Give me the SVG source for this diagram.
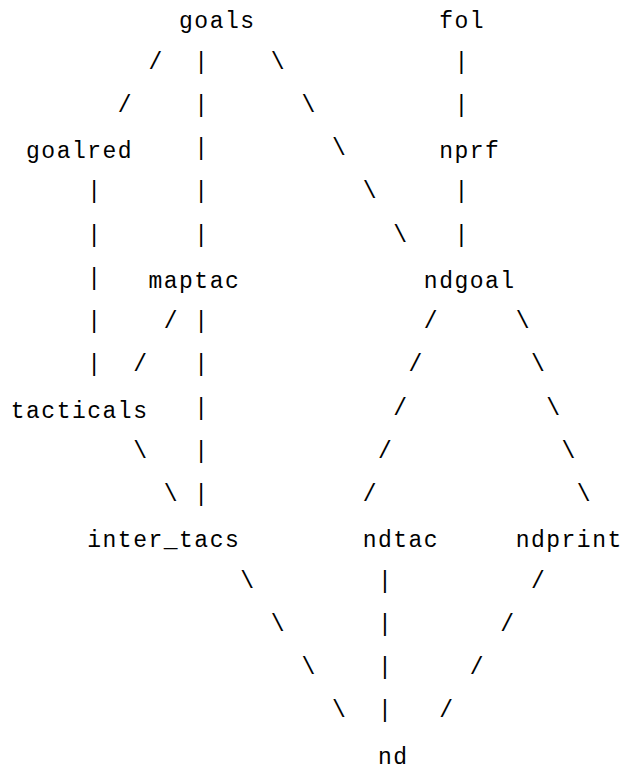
<svg xmlns="http://www.w3.org/2000/svg" width="623" height="770" viewBox="0 0 623 770">
  <style>
    text { font-family: "Liberation Mono", "DejaVu Sans Mono", monospace; fill: #000; }
    .lbl { font-size: 23px; letter-spacing: 1.5px; }
    .edge { font-size: 23px; text-anchor: middle; }
  </style>
  <rect width="623" height="770" fill="#fff"/>

  <!-- module nodes -->
  <g id="goals"><text class="lbl" x="179.05" y="28.3">goals</text></g>
  <g id="fol"><text class="lbl" x="439.15" y="28.3">fol</text></g>
  <g id="goalred"><text class="lbl" x="26.05" y="158.05">goalred</text></g>
  <g id="nprf"><text class="lbl" x="439.15" y="158.05">nprf</text></g>
  <g id="maptac"><text class="lbl" x="148.45" y="287.8">maptac</text></g>
  <g id="ndgoal"><text class="lbl" x="423.85" y="287.8">ndgoal</text></g>
  <g id="tacticals"><text class="lbl" x="10.75" y="417.55">tacticals</text></g>
  <g id="inter_tacs"><text class="lbl" x="87.25" y="547.3">inter_tacs</text></g>
  <g id="ndtac"><text class="lbl" x="362.65" y="547.3">ndtac</text></g>
  <g id="ndprint"><text class="lbl" x="515.65" y="547.3">ndprint</text></g>
  <g id="nd"><text class="lbl" x="377.95" y="763.55">nd</text></g>

  <!-- dependency strokes, one character cell each -->
  <g id="connectors" class="edge" transform="translate(0,-3)">
    <text x="155.35" y="71.55">/</text><text x="201.25" y="71.55">|</text><text x="277.75" y="71.55">\</text><text x="461.35" y="71.55">|</text>
    <text x="124.75" y="114.8">/</text><text x="201.25" y="114.8">|</text><text x="308.35" y="114.8">\</text><text x="461.35" y="114.8">|</text>
    <text x="201.25" y="158.05">|</text><text x="338.95" y="158.05">\</text>
    <text x="94.15" y="201.3">|</text><text x="201.25" y="201.3">|</text><text x="369.55" y="201.3">\</text><text x="461.35" y="201.3">|</text>
    <text x="94.15" y="244.55">|</text><text x="201.25" y="244.55">|</text><text x="400.15" y="244.55">\</text><text x="461.35" y="244.55">|</text>
    <text x="94.15" y="287.8">|</text>
    <text x="94.15" y="331.05">|</text><text x="170.65" y="331.05">/</text><text x="201.25" y="331.05">|</text><text x="430.75" y="331.05">/</text><text x="522.55" y="331.05">\</text>
    <text x="94.15" y="374.3">|</text><text x="140.05" y="374.3">/</text><text x="201.25" y="374.3">|</text><text x="415.45" y="374.3">/</text><text x="537.85" y="374.3">\</text>
    <text x="201.25" y="417.55">|</text><text x="400.15" y="417.55">/</text><text x="553.15" y="417.55">\</text>
    <text x="140.05" y="460.8">\</text><text x="201.25" y="460.8">|</text><text x="384.85" y="460.8">/</text><text x="568.45" y="460.8">\</text>
    <text x="170.65" y="504.05">\</text><text x="201.25" y="504.05">|</text><text x="369.55" y="504.05">/</text><text x="583.75" y="504.05">\</text>
    <text x="247.15" y="590.55">\</text><text x="384.85" y="590.55">|</text><text x="537.85" y="590.55">/</text>
    <text x="277.75" y="633.8">\</text><text x="384.85" y="633.8">|</text><text x="507.25" y="633.8">/</text>
    <text x="308.35" y="677.05">\</text><text x="384.85" y="677.05">|</text><text x="476.65" y="677.05">/</text>
    <text x="338.95" y="720.3">\</text><text x="384.85" y="720.3">|</text><text x="446.05" y="720.3">/</text>
  </g>
</svg>
